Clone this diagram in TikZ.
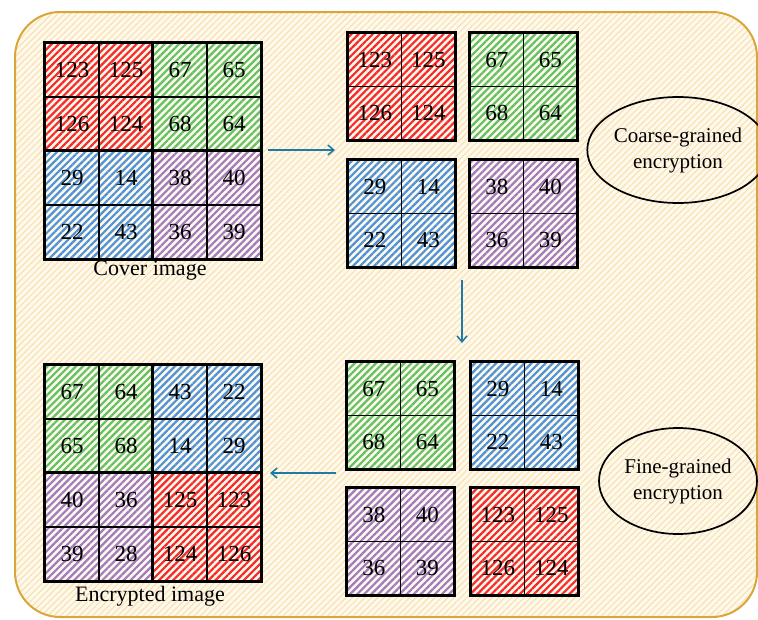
\documentclass[tikz,border=0pt]{standalone}
\usepackage{fontspec}
\setmainfont{Liberation Serif}
\usetikzlibrary{patterns.meta,arrows.meta,shapes.geometric}
\definecolor{framec}{HTML}{D9A63A}
\definecolor{cream}{HTML}{FFF9EC}
\definecolor{bghatch}{HTML}{F7DFAE}
\definecolor{cred}{HTML}{F52A2A}
\definecolor{cgreen}{HTML}{62C162}
\definecolor{cblue}{HTML}{4F93D6}
\definecolor{cpurple}{HTML}{A07BBE}
\definecolor{arrowc}{HTML}{1F7BA5}
\def\cs{54}
\newcommand{\quadblock}[8]{%
  \node[cell,hatch=#4] (#1-a) at (#2+0.5*\cs,#3+0.5*\cs) {#5};
  \node[cell,hatch=#4] (#1-b) at (#2+1.5*\cs,#3+0.5*\cs) {#6};
  \node[cell,hatch=#4] (#1-c) at (#2+0.5*\cs,#3+1.5*\cs) {#7};
  \node[cell,hatch=#4] (#1-d) at (#2+1.5*\cs,#3+1.5*\cs) {#8};
  \draw[line width=2pt] (#1-a.north west) rectangle (#1-d.south east);
}
\begin{document}
\begin{tikzpicture}[x=1pt,y=-1pt,
  cell/.style={draw=black, line width=1.5pt, minimum size=\cs pt, inner sep=0pt,
    font=\fontsize{23}{23}\selectfont, preaction={fill=cream}},
  hatch/.style={pattern={Lines[angle=45,distance=5pt,line width=2.2pt]}, pattern color=#1},
  lbl/.style={font=\fontsize{22}{24}\selectfont, inner sep=0pt},
  ovalnode/.style={ellipse, draw=black, line width=1.7pt, minimum width=158pt, minimum height=106pt,
    align=center, font=\fontsize{21}{26}\selectfont, inner sep=0pt},
  arr/.style={draw=arrowc, line width=1.5pt, -{Straight Barb[length=6pt,width=10pt,line width=1.5pt]}}]
\useasboundingbox (0,0) rectangle (758,619);
\draw[draw=framec, line width=2pt, rounded corners=45pt, preaction={fill=cream},
  pattern={Lines[angle=45,distance=4.5pt,line width=1pt]}, pattern color=bghatch]
  (15,12) rectangle (757,617);
% cover image
\def\cs{54}
\quadblock{cvr}{45}{43}{cred}{123}{125}{126}{124}
\quadblock{cvg}{153}{43}{cgreen}{67}{65}{68}{64}
\quadblock{cvb}{45}{151}{cblue}{29}{14}{22}{43}
\quadblock{cvp}{153}{151}{cpurple}{38}{40}{36}{39}
\node[lbl] (coverlbl) at (150,271) {Cover image};
% encrypted image
\quadblock{eng}{45}{365}{cgreen}{67}{64}{65}{68}
\quadblock{enb}{153}{365}{cblue}{43}{22}{14}{29}
\quadblock{enp}{45}{473}{cpurple}{40}{36}{39}{28}
\quadblock{enr}{153}{473}{cred}{125}{123}{124}{126}
\node[lbl] (enclbl) at (150,596) {Encrypted image};
% coarse blocks
\def\cs{53.5}
\quadblock{cor}{348}{33}{cred}{123}{125}{126}{124}
\quadblock{cog}{470}{33}{cgreen}{67}{65}{68}{64}
\quadblock{cob}{348}{160}{cblue}{29}{14}{22}{43}
\quadblock{cop}{470}{160}{cpurple}{38}{40}{36}{39}
% fine blocks
\quadblock{fig}{347}{362}{cgreen}{67}{65}{68}{64}
\quadblock{fib}{471}{362}{cblue}{29}{14}{22}{43}
\quadblock{fip}{347}{488}{cpurple}{38}{40}{36}{39}
\quadblock{fir}{471}{488}{cred}{123}{125}{126}{124}
% ellipses
\node[ovalnode] (coarse) at (678,150) {Coarse-grained\\encryption};
\node[ovalnode] (fine) at (678,481) {Fine-grained\\encryption};
% arrows
\coordinate (a1s) at (268,150);
\coordinate (a1e) at (335,150);
\coordinate (a2s) at (462,280);
\coordinate (a2e) at (462,343);
\coordinate (a3s) at (336,473);
\coordinate (a3e) at (270,473);
\draw[arr] (a1s) -- (a1e);
\draw[arr] (a2s) -- (a2e);
\draw[arr] (a3s) -- (a3e);
\end{tikzpicture}
\end{document}
